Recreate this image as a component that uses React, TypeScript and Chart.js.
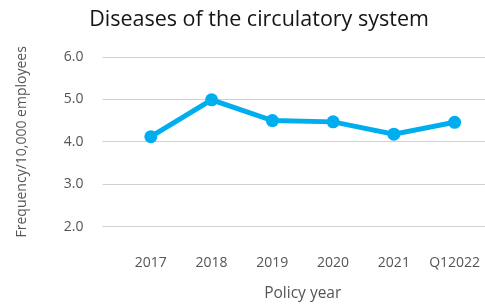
import React, { useEffect, useRef } from "react";
import { Chart, registerables } from "chart.js";

Chart.register(...registerables);

const TITLE = "Diseases of the circulatory system";
const Y_TITLE = "Frequency/10,000 employees";
const X_TITLE = "Policy year";
const categories = ["2017", "2018", "2019", "2020", "2021", "Q12022"];
const frequency = [4.12, 4.99, 4.5, 4.47, 4.18, 4.46];
const yTicks = [2, 3, 4, 5, 6];

const FONT = "'Open Sans', Lato, sans-serif";

const titlePlugin = {
  id: "centerTitle",
  afterDraw(chart: any) {
    const ctx = chart.ctx;
    ctx.save();
    ctx.font = `21.5px ${FONT}`;
    ctx.fillStyle = "#151515";
    ctx.textAlign = "center";
    ctx.textBaseline = "middle";
    ctx.fillText(TITLE, 259, 20);
    ctx.restore();
  },
};

export default function App() {
  const ref = useRef<HTMLCanvasElement | null>(null);
  useEffect(() => {
    if (!ref.current) return;
    const chart = new Chart(ref.current, {
      type: "line",
      data: {
        labels: categories,
        datasets: [
          {
            data: frequency,
            borderColor: "#00AEEF",
            backgroundColor: "#00AEEF",
            borderWidth: 5,
            pointRadius: 6.5,
            pointBackgroundColor: "#00AEEF",
            pointBorderWidth: 0,
            tension: 0,
            clip: false,
          },
        ],
      },
      options: {
        animation: false,
        responsive: false,
        maintainAspectRatio: false,
        layout: { autoPadding: false, padding: { top: 57, left: 0, right: 0, bottom: 0 } },
        plugins: {
          legend: { display: false },
          tooltip: { enabled: false },
          title: { display: false },
        },
        scales: {
          x: {
            offset: true,
            grid: { display: false, drawTicks: true, tickLength: 28 },
            border: { display: false },
            ticks: {
              color: "#555",
              font: { family: FONT, size: 14 },
              padding: 0,
              maxRotation: 0,
              autoSkip: false,
            },
            title: {
              display: true,
              text: X_TITLE,
              color: "#555",
              font: { family: FONT, size: 15.5 },
              padding: { top: 13, bottom: 2 },
            },
          },
          y: {
            min: 2,
            max: 6,
            afterBuildTicks: (axis: any) => {
              axis.ticks = yTicks.map((v) => ({ value: v }));
            },
            grid: {
              color: "#d0d0d0",
              lineWidth: 1,
              drawTicks: true,
              tickLength: 18,
            },
            border: { display: false },
            ticks: {
              color: "#555",
              font: { family: FONT, size: 14 },
              padding: 19,
              callback: (v: any) => Number(v).toFixed(1),
            },
            title: {
              display: true,
              text: Y_TITLE,
              color: "#555",
              font: { family: FONT, size: 14 },
              padding: { top: 14, bottom: 14 },
            },
          },
        },
      },
      plugins: [titlePlugin],
    });
    return () => chart.destroy();
  }, []);
  return (
    <div style={{ position: "fixed", left: 0, top: 0, width: 485, height: 305, background: "#fff" }}>
      <canvas ref={ref} width={485} height={305} style={{ width: 485, height: 305 }} />
    </div>
  );
}
